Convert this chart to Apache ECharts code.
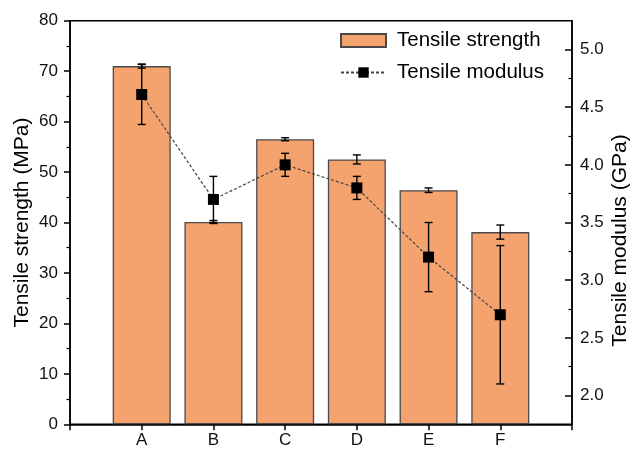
<!DOCTYPE html>
<html>
<head>
<meta charset="utf-8">
<script src="https://cdn.jsdelivr.net/npm/echarts@6/dist/echarts.min.js"></script>
<style>
html,body{margin:0;padding:0;background:#fff;}
#c{width:635px;height:452px;}
</style>
</head>
<body>
<div id="c"></div>
<script>
const categories = ['A', 'B', 'C', 'D', 'E', 'F'];
const strength = [71.0, 40.1, 56.5, 52.5, 46.4, 38.1];
const strengthErr = [0.4, 0.3, 0.3, 0.9, 0.45, 1.4];
const modulus = [4.61, 3.70, 4.00, 3.80, 3.20, 2.70];
const modulusErr = [0.26, 0.2, 0.1, 0.1, 0.3, 0.6];
const leftTicks = [0, 10, 20, 30, 40, 50, 60, 70, 80];
const rightTicks = [2.0, 2.5, 3.0, 3.5, 4.0, 4.5, 5.0];
const rightMinorTicks = [2.25, 2.75, 3.25, 3.75, 4.25, 4.75];

const FONT = 'Liberation Sans, Arial, sans-serif';
const chart = echarts.init(document.getElementById('c'), null, {renderer: 'canvas'});

function errRender(params, api) {
  const x = api.value(0);
  const lo = api.coord([x, api.value(1)]);
  const hi = api.coord([x, api.value(2)]);
  const w = 4;
  const st = {stroke: '#000', lineWidth: 1.4};
  return {
    type: 'group',
    children: [
      {type: 'line', shape: {x1: lo[0], y1: lo[1], x2: hi[0], y2: hi[1]}, style: st},
      {type: 'line', shape: {x1: lo[0] - w, y1: lo[1], x2: lo[0] + w, y2: lo[1]}, style: st},
      {type: 'line', shape: {x1: hi[0] - w, y1: hi[1], x2: hi[0] + w, y2: hi[1]}, style: st}
    ]
  };
}

const option = {
  backgroundColor: '#fff',
  animation: false,
  grid: {
    left: 70, right: 63, top: 20.7, bottom: 27.7,
    outerBoundsMode: 'none', containLabel: false,
    show: true, borderColor: '#000', borderWidth: 1.5, backgroundColor: 'transparent'
  },
  legend: {
    orient: 'vertical',
    left: 335, top: 25,
    itemWidth: 45, itemHeight: 13, itemGap: 11,
    textStyle: {fontFamily: FONT, fontSize: 20.5, color: '#000', padding: [0, 0, 0, 6]},
    data: [
      {name: 'Tensile strength', icon: 'rect'},
      {name: 'Tensile modulus'}
    ]
  },
  xAxis: {
    type: 'value', min: 0, max: 7, interval: 1,
    axisLine: {lineStyle: {color: '#000', width: 1.5}},
    axisTick: {show: true, length: 6, lineStyle: {color: '#000', width: 1.5}},
    axisLabel: {
      fontFamily: FONT, fontSize: 17, color: '#111', margin: 8,
      formatter: v => categories[v - 1] || ''
    },
    splitLine: {show: false}
  },
  yAxis: [
    {
      type: 'value', min: 0, max: 80, interval: 10, position: 'left',
      name: 'Tensile strength (MPa)', nameLocation: 'middle', nameGap: 37, nameRotate: 90,
      nameMoveOverlap: false,
      nameTextStyle: {fontFamily: FONT, fontSize: 21, color: '#000'},
      axisLine: {show: true, lineStyle: {color: '#000', width: 1.5}},
      axisTick: {show: true, length: 6, lineStyle: {color: '#000', width: 1.5}},
      minorTick: {show: true, splitNumber: 2, length: 3.5, lineStyle: {color: '#000', width: 1.2}},
      axisLabel: {fontFamily: FONT, fontSize: 17, color: '#111', margin: 12},
      splitLine: {show: false}
    },
    {
      type: 'value', min: 1.75, max: 5.25, position: 'right',
      name: 'Tensile modulus (GPa)', nameLocation: 'middle', nameGap: 38, nameRotate: 90,
      nameMoveOverlap: false,
      nameTextStyle: {fontFamily: FONT, fontSize: 21, color: '#000', padding: [0, 36, 0, 0]},
      axisLine: {show: true, lineStyle: {color: '#000', width: 1.5}},
      axisTick: {show: true, inside: true, length: 7, customValues: rightTicks, lineStyle: {color: '#000', width: 1.5}},
      axisLabel: {fontFamily: FONT, fontSize: 17, color: '#111', margin: 8, customValues: rightTicks,
        formatter: v => v.toFixed(1)},
      splitLine: {show: false}
    },
    {
      type: 'value', min: 1.75, max: 5.25, position: 'right',
      axisLine: {show: false},
      axisTick: {show: true, inside: true, length: 3.5, customValues: rightMinorTicks, lineStyle: {color: '#000', width: 1.2}},
      axisLabel: {show: false, customValues: rightMinorTicks},
      splitLine: {show: false}
    }
  ],
  series: [
    {
      name: 'Tensile strength', type: 'bar', yAxisIndex: 0, barWidth: 58, z: 2,
      itemStyle: {color: '#F4A36E', borderColor: '#4a4a4a', borderWidth: 1.3},
      data: strength.map((v, i) => [i + 1, v])
    },
    {
      name: 'strengthErr', type: 'custom', yAxisIndex: 0, z: 3,
      renderItem: errRender, encode: {x: 0, y: [1, 2]},
      data: strength.map((v, i) => [i + 1, v - strengthErr[i], v + strengthErr[i]])
    },
    {
      name: 'modulusErr', type: 'custom', yAxisIndex: 1, z: 4,
      renderItem: errRender, encode: {x: 0, y: [1, 2]},
      data: modulus.map((v, i) => [i + 1, v - modulusErr[i], v + modulusErr[i]])
    },
    {
      name: 'Tensile modulus', type: 'line', yAxisIndex: 1, z: 5,
      symbol: 'rect', symbolSize: 11,
      itemStyle: {color: '#000'},
      lineStyle: {color: '#444', width: 1.2, type: [3, 2]},
      data: modulus.map((v, i) => [i + 1, v])
    }
  ]
};
chart.setOption(option);
</script>
</body>
</html>
